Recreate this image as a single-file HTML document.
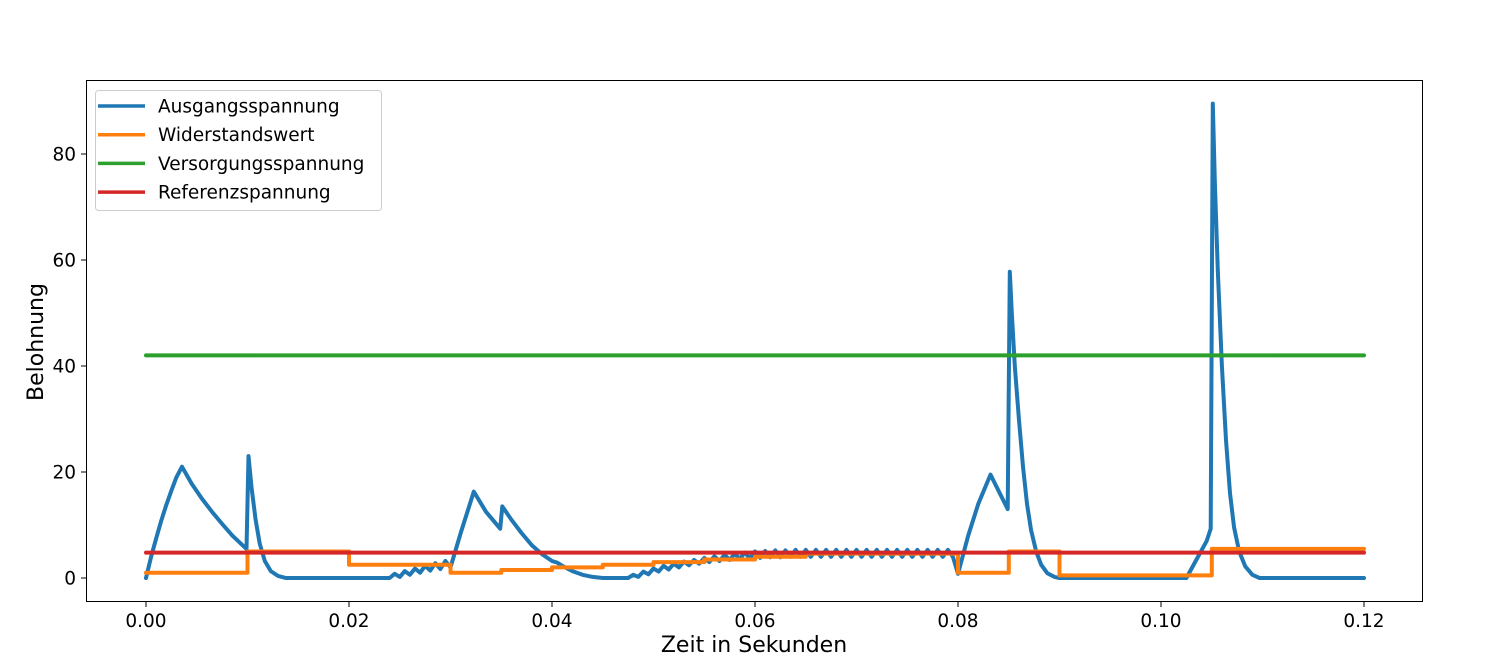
<!DOCTYPE html>
<html><head><meta charset="utf-8"><style>
body{margin:0;background:#fff}
svg{display:block;font-family:"DejaVu Sans","Liberation Sans",sans-serif}
</style></head><body>
<svg id="chart" width="1507" height="656"></svg>
<script>
const bluePts=[[0,0],[0.0005,4],[0.001,7.5],[0.0015,10.8],[0.002,13.8],[0.0025,16.5],[0.003,19],[0.00355,21],
[0.0045,17.8],[0.0055,15],[0.0065,12.5],[0.0075,10.2],[0.0085,8],[0.0099,5.5],[0.0101,23],[0.0104,17],[0.0108,11],[0.0112,6.5],[0.0117,3.2],[0.0123,1.3],[0.013,0.4],[0.0138,0],[0.024,0],
[0.0245,0.8],[0.025,0.2],[0.0255,1.3],[0.026,0.6],[0.0265,1.8],[0.027,1.0],[0.0275,2.3],[0.028,1.4],[0.0285,2.8],[0.029,1.7],[0.0295,3.2],[0.0300,2.0],
[0.031,8.5],[0.032,14.5],[0.0323,16.3],[0.0335,12.5],[0.0349,9.3],[0.0351,13.5],[0.036,11],[0.037,8.5],[0.038,6.2],[0.039,4.5],[0.040,3.2],[0.0405,2.9],[0.041,2.3],[0.042,1.3],[0.043,0.6],[0.044,0.2],[0.045,0],[0.0475,0],
[0.048,0.6],[0.0485,0.2],[0.049,1.2],[0.0495,0.7],[0.05,1.8],[0.0505,1.2],[0.051,2.3],[0.0515,1.6],[0.052,2.7],[0.0525,2.0],[0.053,3.1],[0.0535,2.4],[0.054,3.4],[0.0545,2.7],[0.055,3.8],[0.0555,3.0],[0.056,4.1],[0.0565,3.2],[0.057,4.4],[0.0575,3.4],[0.058,4.6],[0.0585,3.6],[0.059,4.8],[0.0595,3.7],[0.06,5.0],[0.0605,3.8],[0.061,5.1],[0.0615,3.9],[0.062,5.2],[0.0625,3.9],[0.063,5.2],[0.0635,4.0],[0.064,5.3],[0.0645,4.0],[0.065,5.3],[0.0655,4.0],[0.066,5.3],[0.0665,4.0],[0.067,5.3],[0.0675,4.0],[0.068,5.3],[0.0685,4.0],[0.069,5.3],[0.0695,4.0],[0.07,5.3],[0.0705,4.0],[0.071,5.3],[0.0715,4.0],[0.072,5.3],[0.0725,4.0],[0.073,5.3],[0.0735,4.0],[0.074,5.3],[0.0745,4.0],[0.075,5.3],[0.0755,4.0],[0.076,5.3],[0.0765,4.0],[0.077,5.3],[0.0775,4.0],[0.078,5.3],[0.0785,4.0],[0.079,5.3],[0.0795,4.0],[0.0800,0.8],
[0.081,8],[0.082,14],[0.0832,19.5],[0.0849,13],[0.0851,57.8],[0.0853,50],[0.0856,40],[0.086,30],[0.0864,21],[0.0868,14],[0.0872,9],[0.0877,5],[0.0882,2.5],[0.0888,0.9],[0.0895,0.2],[0.09,0],[0.1025,0],[0.1035,3.5],[0.1045,7],[0.1049,9.3],[0.1051,89.5],[0.1053,75],[0.1056,58],[0.106,40],[0.1064,26],[0.1068,16],[0.1072,9.5],[0.1077,5],[0.1083,2.2],[0.109,0.6],[0.1097,0],[0.12,0]];
const orangeT=[0,0.01,0.02,0.03,0.035,0.04,0.045,0.05,0.055,0.06,0.065,0.08,0.085,0.09,0.105,0.12];
const orangeV=[1,5,2.5,1,1.5,2,2.5,3,3.5,4,4.6,1,5,0.5,5.5];
const greenV=42, redV=4.8;
const xTicks=[0,0.02,0.04,0.06,0.08,0.10,0.12];
const xTickLabels=["0.00","0.02","0.04","0.06","0.08","0.10","0.12"];
const yTicks=[0,20,40,60,80];
const yTickLabels=["0","20","40","60","80"];
const legendLabels=["Ausgangsspannung","Widerstandswert","Versorgungsspannung","Referenzspannung"];
const colors=["#1f77b4","#ff7f0e","#2ca02c","#d62728"];

const NS="http://www.w3.org/2000/svg";
const svg=document.getElementById('chart');
const X=t=>146+t*(1364-146)/0.12;
const Y=v=>578-v*(578-154)/80;
function mk(tag,attrs,parent){const e=document.createElementNS(NS,tag);for(const k in attrs)e.setAttribute(k,attrs[k]);(parent||svg).appendChild(e);return e;}

const frame=mk('rect',{x:86.5,y:80.5,width:1336,height:521,fill:'none',stroke:'#000','stroke-width':1});



xTicks.forEach((t,i)=>{
  const l=mk('line',{x1:X(t),x2:X(t),y1:602,y2:607,stroke:'#000'});
  
  
  const tx=mk('text',{x:X(t),y:627,'text-anchor':'middle','font-size':18.5,fill:'#000'});
  tx.textContent=xTickLabels[i];
  
  
});
yTicks.forEach((v,i)=>{
  const l=mk('line',{x1:81,x2:86,y1:Y(v),y2:Y(v),stroke:'#000'});
  
  
  const tx=mk('text',{x:76,y:Y(v)+6.5,'text-anchor':'end','font-size':18.5,fill:'#000'});
  tx.textContent=yTickLabels[i];
  
  
});
const xt=mk('text',{x:754,y:652,'text-anchor':'middle','font-size':22});
xt.textContent='Zeit in Sekunden';


const yt=mk('text',{x:43,y:342,'text-anchor':'middle','font-size':22,transform:'rotate(-90 43 342)'});
yt.textContent='Belohnung';



function line(pts,color,name){
  const p=mk('polyline',{points:pts.map(q=>q[0].toFixed(1)+','+q[1].toFixed(1)).join(' '),fill:'none',stroke:color,'stroke-width':4,'stroke-linejoin':'round','stroke-linecap':'round'});
  
  
}
line(bluePts.map(q=>[X(q[0]),Y(q[1])]),colors[0],'series-ausgangsspannung');
const op=[];
orangeV.forEach((v,i)=>{op.push([X(orangeT[i]),Y(v)]);op.push([X(orangeT[i+1]),Y(v)]);});
line(op,colors[1],'series-widerstandswert');
line([[X(0),Y(greenV)],[X(0.12),Y(greenV)]],colors[2],'series-versorgungsspannung');
line([[X(0),Y(redV)],[X(0.12),Y(redV)]],colors[3],'series-referenzspannung');

const lg=mk('g',{});


mk('rect',{x:95.5,y:90.5,width:286,height:120,rx:3,fill:'#fff','fill-opacity':0.8,stroke:'#ccc'},lg);
legendLabels.forEach((s,i)=>{
  const y=106+i*28.7;
  const g=mk('g',{},lg);
  
  
  mk('line',{x1:98,x2:145,y1:y,y2:y,stroke:colors[i],'stroke-width':3.5},g);
  const t=mk('text',{x:158,y:y+6.5,'font-size':18.5},g);
  t.textContent=s;
});
</script>
</body></html>
